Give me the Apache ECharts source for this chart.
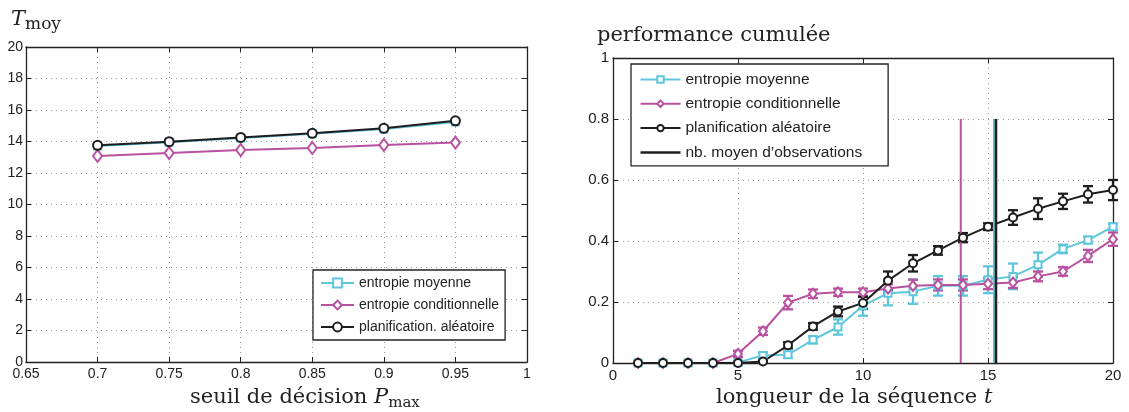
<!DOCTYPE html>
<html>
<head>
<meta charset="utf-8">
<script src="https://cdn.jsdelivr.net/npm/echarts@6/dist/echarts.min.js"></script>
<style>
  html, body { margin: 0; padding: 0; background: #fff; }
  #chart { width: 1129px; height: 412px; }
</style>
</head>
<body>
<div id="chart"></div>
<script>
// --- panneau gauche : T_moy selon le seuil P_max ---
const seuils = [0.7, 0.75, 0.8, 0.85, 0.9, 0.95];
const tMoyEntropieMoy = [13.72, 13.96, 14.22, 14.49, 14.80, 15.24];
const tMoyEntropieCond = [13.08, 13.27, 13.46, 13.59, 13.78, 13.93];
const tMoyAleatoire = [13.76, 13.99, 14.26, 14.52, 14.84, 15.31];

// --- panneau droit : performance cumulée selon t ---
const longueurs = [1, 2, 3, 4, 5, 6, 7, 8, 9, 10, 11, 12, 13, 14, 15, 16, 17, 18, 19, 20];
const perfEntropieMoy = [0, 0, 0, 0, 0.002, 0.025, 0.027, 0.076, 0.118, 0.188, 0.229, 0.234, 0.253, 0.253, 0.273, 0.284, 0.322, 0.374, 0.403, 0.447];
const errEntropieMoy = [0, 0, 0, 0, 0.004, 0.01, 0.01, 0.012, 0.025, 0.033, 0.04, 0.04, 0.032, 0.032, 0.044, 0.042, 0.04, 0.014, 0.011, 0.01];
const perfEntropieCond = [0, 0, 0, 0, 0.03, 0.104, 0.198, 0.227, 0.232, 0.232, 0.244, 0.253, 0.256, 0.256, 0.26, 0.264, 0.284, 0.3, 0.351, 0.406];
const errEntropieCond = [0, 0, 0, 0, 0.01, 0.012, 0.022, 0.014, 0.012, 0.012, 0.014, 0.02, 0.018, 0.018, 0.018, 0.018, 0.016, 0.014, 0.02, 0.022];
const perfAleatoire = [0, 0, 0, 0, 0, 0.005, 0.058, 0.12, 0.169, 0.197, 0.27, 0.327, 0.369, 0.411, 0.447, 0.477, 0.506, 0.53, 0.553, 0.567];
const errAleatoire = [0, 0, 0, 0, 0, 0.004, 0.01, 0.011, 0.016, 0.02, 0.03, 0.027, 0.014, 0.015, 0.011, 0.024, 0.034, 0.025, 0.027, 0.033];

// nb. moyen d'observations (traits verticaux), hauteur 0.8
const nbMoyCond = 13.91;
const nbMoyMoy = 15.24;
const nbMoyAlea = 15.32;
const hautTrait = 0.8;

const CYAN = '#5ec6da';
const MAGENTA = '#b8519f';
const NOIR = '#1e1e1e';
const AXE = '#222';
const SANS = 'Liberation Sans';
const SERIF = 'DejaVu Serif';

const chart = echarts.init(document.getElementById('chart'), null, { renderer: 'canvas' });

// axe "à la matlab" : graduations vers l'intérieur, grille pointillée
function axe(grid, pos, min, max, interval, fontSize, margin, withLabels) {
  return {
    type: 'value', gridIndex: grid, position: pos,
    min: min, max: max, interval: interval,
    axisLine: { show: true, onZero: false, lineStyle: { color: AXE, width: 1.3 } },
    axisTick: { show: true, inside: true, length: 5, lineStyle: { color: AXE, width: 1 } },
    axisLabel: { show: withLabels, color: AXE, fontFamily: SANS, fontSize: fontSize, margin: margin },
    splitLine: withLabels
      ? { show: true, lineStyle: { color: '#999', type: [1, 4], width: 1 } }
      : { show: false }
  };
}

function barresErreur(params, api) {
  const x = api.value(0), y = api.value(1), e = api.value(2);
  const hi = api.coord([x, y + e]);
  const lo = api.coord([x, y - e]);
  const w = 5;
  const style = { stroke: api.visual('color'), lineWidth: 2.3, fill: null };
  return {
    type: 'group',
    children: [
      { type: 'line', shape: { x1: hi[0], y1: hi[1], x2: lo[0], y2: lo[1] }, style: style },
      { type: 'line', shape: { x1: hi[0] - w, y1: hi[1], x2: hi[0] + w, y2: hi[1] }, style: style },
      { type: 'line', shape: { x1: lo[0] - w, y1: lo[1], x2: lo[0] + w, y2: lo[1] }, style: style }
    ]
  };
}

function pts(xs, ys) { return xs.map((x, i) => [x, ys[i]]); }
function ptsErr(xs, ys, es) {
  return xs.map((x, i) => [x, ys[i], es[i]]).filter(d => d[2] > 0);
}

const legendeTxt = (size) => ({ color: AXE, fontFamily: SANS, fontSize: size, lineHeight: size });

const option = {
  animation: false,
  backgroundColor: '#fff',
  grid: [
    { left: 26, top: 47, width: 501, height: 315 },
    { left: 613, top: 58, width: 500, height: 305 }
  ],
  xAxis: [
    axe(0, 'bottom', 0.65, 1, 0.05, 14, 5, true),
    axe(0, 'top', 0.65, 1, 0.05, 14, 5, false),
    axe(1, 'bottom', 0, 20, 5, 15, 5, true),
    axe(1, 'top', 0, 20, 5, 15, 5, false)
  ],
  yAxis: [
    axe(0, 'left', 0, 20, 2, 14, 3, true),
    axe(0, 'right', 0, 20, 2, 14, 3, false),
    axe(1, 'left', 0, 1, 0.2, 15, 4, true),
    axe(1, 'right', 0, 1, 0.2, 15, 4, false)
  ],
  legend: [
    {
      orient: 'vertical', left: 313, top: 270,
      padding: [6, 6, 6, 7], itemGap: 8, itemWidth: 33, itemHeight: 11,
      backgroundColor: '#fff', borderColor: AXE, borderWidth: 1.3, borderRadius: 0,
      selectedMode: false, textStyle: legendeTxt(14),
      data: ['entropie moyenne', 'entropie conditionnelle', 'planification. aléatoire']
    },
    {
      orient: 'vertical', left: 631, top: 64,
      padding: [7.5, 26, 5.5, 8.5], itemGap: 8.3, itemWidth: 40, itemHeight: 8,
      backgroundColor: '#fff', borderColor: AXE, borderWidth: 1.3, borderRadius: 0,
      selectedMode: false, textStyle: legendeTxt(15.5),
      data: ['entropie moyenne', 'entropie conditionnelle', 'planification aléatoire',
        { name: 'nb. moyen d\u2019observations', icon: 'path://M0,0L40,0L40,2.5L0,2.5Z' }]
    }
  ],
  graphic: [
    {
      type: 'text', left: 11, top: 9,
      style: {
        text: '{t|T}{s|moy}',
        rich: {
          t: { fontFamily: SERIF, fontStyle: 'italic', fontSize: 21, lineHeight: 27, verticalAlign: 'middle', fill: AXE },
          s: { fontFamily: SERIF, fontSize: 17, lineHeight: 16, verticalAlign: 'bottom', fill: AXE }
        }
      }
    },
    {
      type: 'text', left: 597, top: 25,
      style: { text: 'performance cumulée', font: '21px "DejaVu Serif"', fill: AXE }
    },
    {
      type: 'text', left: 190, top: 387,
      style: {
        text: '{a|seuil de décision }{p|P}{s|max}',
        rich: {
          a: { fontFamily: SERIF, fontSize: 21, lineHeight: 27, verticalAlign: 'middle', fill: AXE },
          p: { fontFamily: SERIF, fontStyle: 'italic', fontSize: 21, lineHeight: 27, verticalAlign: 'middle', fill: AXE },
          s: { fontFamily: SERIF, fontSize: 15, lineHeight: 15, verticalAlign: 'bottom', fill: AXE }
        }
      }
    },
    {
      type: 'text', left: 716, top: 387,
      style: {
        text: '{a|longueur de la séquence }{p|t}',
        rich: {
          a: { fontFamily: SERIF, fontSize: 21, lineHeight: 27, verticalAlign: 'middle', fill: AXE },
          p: { fontFamily: SERIF, fontStyle: 'italic', fontSize: 21, lineHeight: 27, verticalAlign: 'middle', fill: AXE }
        }
      }
    }
  ],
  series: [
    // panneau gauche
    {
      name: 'entropie moyenne', type: 'line', xAxisIndex: 0, yAxisIndex: 0,
      data: pts(seuils, tMoyEntropieMoy), symbol: 'emptyRect', symbolSize: 7,
      color: CYAN, lineStyle: { width: 2 }, itemStyle: { borderWidth: 2 }
    },
    {
      name: 'entropie conditionnelle', type: 'line', xAxisIndex: 0, yAxisIndex: 0,
      data: pts(seuils, tMoyEntropieCond), symbol: 'emptyDiamond', symbolSize: [9, 12],
      color: MAGENTA, lineStyle: { width: 2 }, itemStyle: { borderWidth: 2 }
    },
    {
      name: 'planification. aléatoire', type: 'line', xAxisIndex: 0, yAxisIndex: 0,
      data: pts(seuils, tMoyAleatoire), symbol: 'emptyCircle', symbolSize: 9,
      color: NOIR, lineStyle: { width: 2 }, itemStyle: { borderWidth: 2 }
    },
    // panneau droit
    {
      name: 'entropie moyenne', type: 'line', xAxisIndex: 2, yAxisIndex: 2,
      data: pts(longueurs, perfEntropieMoy), symbol: 'emptyRect', symbolSize: 7,
      color: CYAN, lineStyle: { width: 2 }, itemStyle: { borderWidth: 2 }
    },
    {
      name: 'err moy', type: 'custom', xAxisIndex: 2, yAxisIndex: 2,
      data: ptsErr(longueurs, perfEntropieMoy, errEntropieMoy), renderItem: barresErreur,
      itemStyle: { color: CYAN }, encode: { x: 0, y: 1 }
    },
    {
      name: 'entropie conditionnelle', type: 'line', xAxisIndex: 2, yAxisIndex: 2,
      data: pts(longueurs, perfEntropieCond), symbol: 'emptyDiamond', symbolSize: [8, 10],
      color: MAGENTA, lineStyle: { width: 2 }, itemStyle: { borderWidth: 2 }
    },
    {
      name: 'err cond', type: 'custom', xAxisIndex: 2, yAxisIndex: 2,
      data: ptsErr(longueurs, perfEntropieCond, errEntropieCond), renderItem: barresErreur,
      itemStyle: { color: MAGENTA }, encode: { x: 0, y: 1 }
    },
    {
      name: 'planification aléatoire', type: 'line', xAxisIndex: 2, yAxisIndex: 2,
      data: pts(longueurs, perfAleatoire), symbol: 'emptyCircle', symbolSize: 8,
      color: NOIR, lineStyle: { width: 2 }, itemStyle: { borderWidth: 1.8 }
    },
    {
      name: 'err alea', type: 'custom', xAxisIndex: 2, yAxisIndex: 2,
      data: ptsErr(longueurs, perfAleatoire, errAleatoire), renderItem: barresErreur,
      itemStyle: { color: NOIR }, encode: { x: 0, y: 1 }
    },
    // traits verticaux : nb. moyen d'observations
    {
      name: 'trait cond', type: 'line', xAxisIndex: 2, yAxisIndex: 2,
      data: [[nbMoyCond, 0], [nbMoyCond, hautTrait]], symbol: 'none',
      color: MAGENTA, lineStyle: { width: 2 }
    },
    {
      name: 'trait moy', type: 'line', xAxisIndex: 2, yAxisIndex: 2,
      data: [[nbMoyMoy, 0], [nbMoyMoy, hautTrait]], symbol: 'none',
      color: CYAN, lineStyle: { width: 2 }
    },
    {
      name: 'nb. moyen d\u2019observations', type: 'line', xAxisIndex: 2, yAxisIndex: 2,
      data: [[nbMoyAlea, 0], [nbMoyAlea, hautTrait]], symbol: 'none',
      color: NOIR, lineStyle: { width: 2.5 }
    }
  ]
};

chart.setOption(option);
</script>
</body>
</html>
